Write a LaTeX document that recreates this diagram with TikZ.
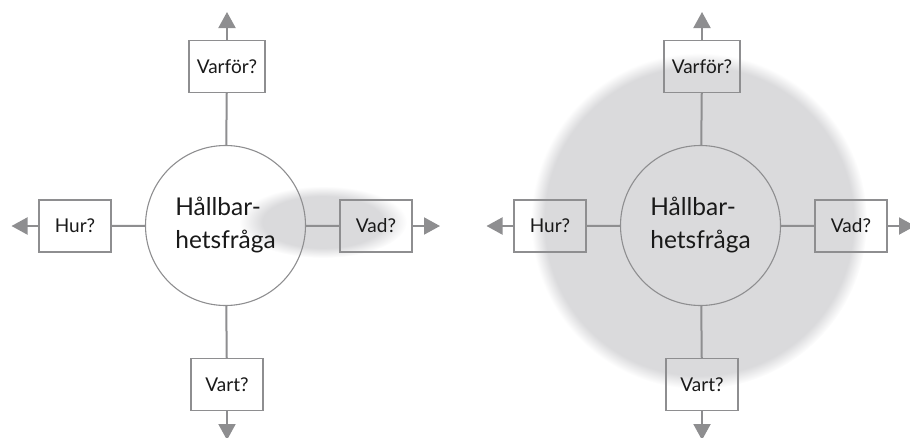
\documentclass[tikz,border=0pt]{standalone}
\usepackage{fontspec}
\setmainfont{Lato}
\usetikzlibrary{arrows.meta}
\definecolor{linegray}{HTML}{8E8E90}
\definecolor{foggray}{HTML}{DADADC}
\pgfdeclareradialshading{fogdisk}{\pgfpoint{0bp}{0bp}}{color(0bp)=(foggray); color(23bp)=(foggray); color(25bp)=(white); color(50bp)=(white)}
\pgfdeclareradialshading{fogspot}{\pgfpoint{0bp}{0bp}}{color(0bp)=(foggray); color(18bp)=(foggray); color(25bp)=(white); color(50bp)=(white)}
\tikzset{qbox/.style={draw=linegray, line width=1.2pt, minimum width=72pt, minimum height=52pt, inner sep=0pt, text=black!90, font=\fontsize{19}{22}\selectfont}}
\tikzset{hub/.style={draw=linegray, line width=1.1pt, circle, minimum size=160pt, inner sep=0pt, align=left, text=black!90, font=\fontsize{24.5}{33}\selectfont}}
\tikzset{spoke/.style={draw=linegray, line width=2pt}}
\tikzset{spokearrow/.style={spoke, ->}}

\begin{document}
\begin{tikzpicture}[x=1pt, y=-1pt, >={Triangle[length=16pt,width=17pt]}]
	\useasboundingbox (0,0) rectangle (910,437);
	
	\shade[shading=fogspot] (323,222) ellipse (84 and 36);
	\shade[shading=fogdisk] (699,221) circle (168);
	
	\foreach \p/\xo in {l/0, r/475} {
		\node[hub] (\p hub) at ({225.5+\xo},225.5) {Hållbar-\\hetsfråga};
		\node[qbox, minimum width=76pt] (\p why) at ({227+\xo},66.5) {Varför?};
		\node[qbox] (\p how) at ({75+\xo},226) {Hur?};
		\node[qbox] (\p what) at ({376+\xo},226) {Vad?};
		\node[qbox] (\p where) at ({227+\xo},384.5) {Vart?};
		
		\coordinate (\p upend) at ({227+\xo},12);
		\coordinate (\p leftend) at ({11.5+\xo},226);
		\coordinate (\p rightend) at ({440+\xo},226);
		\coordinate (\p downend) at ({227+\xo},440);
		
		\draw[spoke] (\p hub) -- (\p why);
		\draw[spoke] (\p hub) -- (\p how);
		\draw[spoke] (\p hub) -- (\p what);
		\draw[spoke] (\p hub) -- (\p where);
		
		\draw[spokearrow] (\p why) -- (\p upend);
		\draw[spokearrow] (\p how) -- (\p leftend);
		\draw[spokearrow] (\p what) -- (\p rightend);
		\draw[spokearrow] (\p where) -- (\p downend);
	};
	
\end{tikzpicture}
\end{document}
